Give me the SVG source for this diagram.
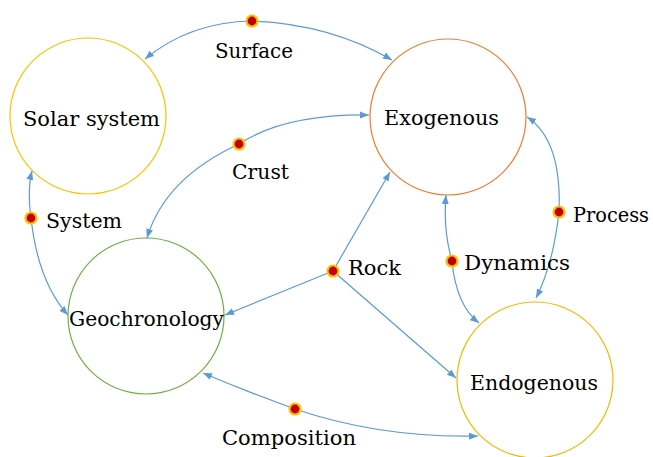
<svg xmlns="http://www.w3.org/2000/svg" width="653" height="457" viewBox="0 0 653 457">
<style>
.node{fill:#fff;stroke-width:1.2}
.t{font-family:'DejaVu Serif','Liberation Serif',serif;font-size:20px;fill:#000}
.e{fill:none;stroke:#5B9BD5;stroke-width:1.2}
.dot{fill:#C00000;stroke:#FFC000;stroke-width:2.2}
</style>
<defs>
<marker id="ah" markerUnits="userSpaceOnUse" markerWidth="10" markerHeight="8" refX="9" refY="3.5" orient="auto">
<path d="M0,0 L9,3.5 L0,7 z" fill="#5B9BD5"/>
</marker>
</defs>
<rect width="653" height="457" fill="#fff"/>
<g id="n-solar"><circle class="node" cx="88" cy="116" r="78" stroke="#FFC000"/><text class="t" x="23" y="126" textLength="137" lengthAdjust="spacingAndGlyphs">Solar system</text></g>
<g id="n-exo"><circle class="node" cx="448" cy="117" r="78" stroke="#ED7D31"/><text class="t" x="384" y="125" textLength="115" lengthAdjust="spacingAndGlyphs">Exogenous</text></g>
<g id="n-geo"><circle class="node" cx="146" cy="316" r="78" stroke="#70AD47"/><text class="t" x="69" y="326" textLength="155" lengthAdjust="spacingAndGlyphs">Geochronology</text></g>
<g id="n-endo"><circle class="node" cx="535" cy="380" r="78" stroke="#F2B800"/><text class="t" x="470" y="390" textLength="128" lengthAdjust="spacingAndGlyphs">Endogenous</text></g>
<g id="connectors">
<path class="e" d="M252,21 Q190,22 145,59" marker-end="url(#ah)"/>
<path class="e" d="M252,21 Q330,24 392,60" marker-end="url(#ah)"/>
<path class="e" d="M239,144 Q285,114 369,115" marker-end="url(#ah)"/>
<path class="e" d="M239,144 Q165,178 147,238" marker-end="url(#ah)"/>
<path class="e" d="M31,218 Q27,190 32,171" marker-end="url(#ah)"/>
<path class="e" d="M31,218 Q38,282 68,315" marker-end="url(#ah)"/>
<path class="e" d="M333,271 L390,172" marker-end="url(#ah)"/>
<path class="e" d="M333,271 L225,315" marker-end="url(#ah)"/>
<path class="e" d="M333,271 L456,378" marker-end="url(#ah)"/>
<path class="e" d="M452,261 Q443,230 446,195" marker-end="url(#ah)"/>
<path class="e" d="M452,261 Q456,305 479,323" marker-end="url(#ah)"/>
<path class="e" d="M559,212 Q562,140 527,117" marker-end="url(#ah)"/>
<path class="e" d="M559,212 Q553,265 536,298" marker-end="url(#ah)"/>
<path class="e" d="M295,409 Q245,391 203,373" marker-end="url(#ah)"/>
<path class="e" d="M295,409 Q380,438 478,436" marker-end="url(#ah)"/>
<circle class="dot" cx="252" cy="21" r="5.5"/>
<circle class="dot" cx="239" cy="144" r="5.5"/>
<circle class="dot" cx="31" cy="218" r="5.5"/>
<circle class="dot" cx="333" cy="271" r="5.5"/>
<circle class="dot" cx="452" cy="261" r="5.5"/>
<circle class="dot" cx="559" cy="212" r="5.5"/>
<circle class="dot" cx="295" cy="409" r="5.5"/>
<text class="t" x="215" y="58" textLength="78" lengthAdjust="spacingAndGlyphs">Surface</text>
<text class="t" x="232" y="179" textLength="57" lengthAdjust="spacingAndGlyphs">Crust</text>
<text class="t" x="46" y="228" textLength="76" lengthAdjust="spacingAndGlyphs">System</text>
<text class="t" x="348" y="275" textLength="53" lengthAdjust="spacingAndGlyphs">Rock</text>
<text class="t" x="464" y="270" textLength="106" lengthAdjust="spacingAndGlyphs">Dynamics</text>
<text class="t" x="573" y="222" textLength="76" lengthAdjust="spacingAndGlyphs">Process</text>
<text class="t" x="222" y="445" textLength="134" lengthAdjust="spacingAndGlyphs">Composition</text>
</g>
</svg>
